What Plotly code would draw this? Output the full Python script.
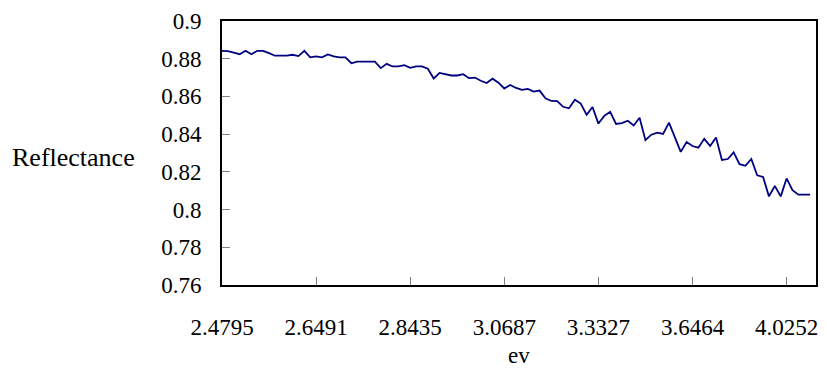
import plotly.graph_objects as go

# Photon energy (eV) for wavelengths 500 nm down to 300 nm in 2 nm steps
wavelength_nm = list(range(500, 298, -2))
ev_labels = [f"{1239.76 / w:.4f}" for w in wavelength_nm]

reflectance = [
    0.8842, 0.8840, 0.8832, 0.8824, 0.8842, 0.8824, 0.8842, 0.8842, 0.8830, 0.8816,
    0.8816, 0.8816, 0.8821, 0.8814, 0.8842, 0.8807, 0.8812, 0.8807, 0.8823, 0.8812,
    0.8807, 0.8807, 0.8776, 0.8785, 0.8785, 0.8785, 0.8785, 0.8750, 0.8773, 0.8759,
    0.8759, 0.8766, 0.8752, 0.8759, 0.8759, 0.8747, 0.8695, 0.8725, 0.8718, 0.8711,
    0.8711, 0.8718, 0.8697, 0.8700, 0.8683, 0.8671, 0.8694, 0.8673, 0.8642, 0.8661,
    0.8645, 0.8635, 0.8640, 0.8626, 0.8631, 0.8590, 0.8576, 0.8575, 0.8545, 0.8537,
    0.8583, 0.8562, 0.8502, 0.8544, 0.8456, 0.8497, 0.8518, 0.8454, 0.8459, 0.8471,
    0.8446, 0.8487, 0.8368, 0.8397, 0.8408, 0.8401, 0.8461, 0.8383, 0.8306, 0.8358,
    0.8337, 0.8328, 0.8375, 0.8337, 0.8382, 0.8263, 0.8268, 0.8303, 0.8241, 0.8232,
    0.8268, 0.8182, 0.8173, 0.8070, 0.8125, 0.8070, 0.8165, 0.8103, 0.8079, 0.8079,
    0.8079,
]

x_tick_labels = ["2.4795", "2.6491", "2.8435", "3.0687", "3.3327", "3.6464", "4.0252"]
y_tick_values = [0.76, 0.78, 0.80, 0.82, 0.84, 0.86, 0.88, 0.90]
y_tick_labels = ["0.76", "0.78", "0.8", "0.82", "0.84", "0.86", "0.88", "0.9"]

FONT = "Liberation Serif, Times New Roman, serif"

fig = go.Figure(
    go.Scatter(
        x=ev_labels,
        y=reflectance,
        mode="lines",
        line=dict(color="#000080", width=1.8),
        showlegend=False,
    )
)

fig.update_layout(
    width=827,
    height=385,
    margin=dict(l=222, r=9, t=14, b=100),
    paper_bgcolor="white",
    plot_bgcolor="white",
    font=dict(family=FONT, size=23, color="black"),
    annotations=[
        dict(text="Reflectance", xref="paper", yref="paper", x=-0.143, y=0.483,
             xanchor="right", yanchor="middle", showarrow=False,
             font=dict(family=FONT, size=26, color="black")),
        dict(text="ev", xref="paper", yref="paper", x=0.5, y=-0.268,
             xanchor="center", yanchor="middle", showarrow=False,
             font=dict(family=FONT, size=23, color="black")),
    ],
)

fig.update_xaxes(
    type="category",
    range=[0, 101],
    tickmode="array",
    tickvals=x_tick_labels,
    ticktext=x_tick_labels,
    ticks="inside",
    ticklen=8,
    tickwidth=1,
    tickcolor="#808080",
    ticklabelstandoff=20,
    showline=True,
    linecolor="black",
    linewidth=2,
    mirror=True,
    showgrid=False,
    zeroline=False,
)

fig.update_yaxes(
    range=[0.76, 0.90],
    tickmode="array",
    tickvals=y_tick_values,
    ticktext=y_tick_labels,
    ticks="inside",
    ticklen=8,
    tickwidth=1,
    tickcolor="#808080",
    ticklabelstandoff=14,
    showline=True,
    linecolor="black",
    linewidth=2,
    mirror=True,
    showgrid=False,
    zeroline=False,
)

fig.write_html("out.html")
